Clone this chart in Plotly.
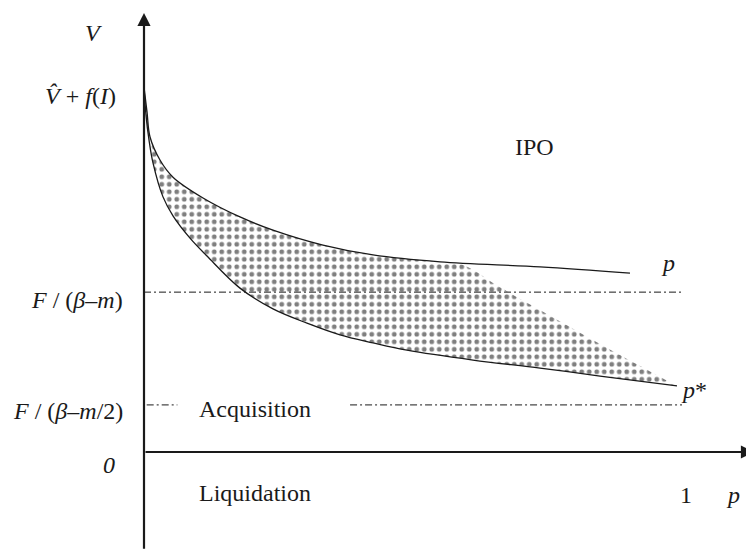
import plotly.graph_objects as go

# ---- data (schematic units: p on x, V on y; V_hat + f(I) = 1) ----
top_p = [0.0, 0.0056, 0.0112, 0.0297, 0.0539, 0.1097, 0.1784, 0.2398, 0.3327, 0.4257, 0.5502, 0.7361, 0.9033]
top_v = [1.0, 0.932, 0.863, 0.800, 0.753, 0.696, 0.644, 0.608, 0.567, 0.540, 0.521, 0.507, 0.490]

low_p = [0.0, 0.0037, 0.0093, 0.0167, 0.0353, 0.0539, 0.0855, 0.1171, 0.1784, 0.2398, 0.3030,
         0.3643, 0.4257, 0.4888, 0.6115, 0.7361, 0.8476, 0.9907]
low_v = [1.0, 0.923, 0.855, 0.792, 0.699, 0.647, 0.586, 0.537, 0.449, 0.392, 0.353,
         0.321, 0.299, 0.279, 0.252, 0.230, 0.208, 0.181]

# upper edge of the shaded region after it leaves the p curve
edge_p = [0.5874, 0.6152, 0.6487, 0.7361, 0.8476, 0.9907]
edge_v = [0.515, 0.496, 0.463, 0.389, 0.296, 0.181]

level_high = 0.438   # F / (beta - m)
level_low = 0.129    # F / (beta - m/2)
p_one = 1.0

y_tick_labels = ["<i>V̂</i> + <i>f</i>(<i>I</i>)", "<i>F</i> / (<i>β</i>–<i>m</i>)",
                 "<i>F</i> / (<i>β</i>–<i>m</i>/2)", "<i>0</i>"]
y_tick_vals = [1.0, level_high, level_low, 0.0]

# ---- figure ----
INK = "#1a1a1a"
FONT = "Liberation Serif, Times New Roman, serif"
fig = go.Figure()

# shaded region
n_top = top_p.index(0.5502) + 1
fill_x = top_p[:n_top] + edge_p + low_p[::-1]
fill_y = top_v[:n_top] + edge_v + low_v[::-1]
fig.add_trace(go.Scatter(
    x=fill_x, y=fill_y, mode="lines", fill="toself", fillcolor="white",
    line=dict(width=0, shape="spline", smoothing=1.0),
    fillpattern=dict(shape=".", size=7.5, solidity=0.32, fgcolor="#000000", bgcolor="white"),
    hoverinfo="skip", showlegend=False))

# dash-dot reference levels
dash = "7px,3px,2px,3px"
fig.add_trace(go.Scatter(x=[0.0, 1.002], y=[level_high, level_high], mode="lines",
                         line=dict(color=INK, width=1, dash=dash), showlegend=False))
fig.add_trace(go.Scatter(x=[0.005, 0.062], y=[level_low, level_low], mode="lines",
                         line=dict(color=INK, width=1, dash=dash), showlegend=False))
fig.add_trace(go.Scatter(x=[0.383, 1.0], y=[level_low, level_low], mode="lines",
                         line=dict(color=INK, width=1, dash=dash), showlegend=False))

# curves
fig.add_trace(go.Scatter(x=top_p, y=top_v, mode="lines",
                         line=dict(color=INK, width=1.3, shape="spline", smoothing=1.0),
                         showlegend=False))
fig.add_trace(go.Scatter(x=low_p, y=low_v, mode="lines",
                         line=dict(color=INK, width=1.3, shape="spline", smoothing=1.0),
                         showlegend=False))

# axes with arrows
x_end, y_end, y_bottom = 1.134, 1.203, -0.269
fig.add_annotation(x=x_end, y=0, ax=0, ay=0, xref="x", yref="y", axref="x", ayref="y",
                   showarrow=True, arrowhead=2, arrowsize=1.2, arrowwidth=2.2, arrowcolor=INK, text="")
fig.add_annotation(x=0, y=y_end, ax=0, ay=y_bottom, xref="x", yref="y", axref="x", ayref="y",
                   showarrow=True, arrowhead=2, arrowsize=1.2, arrowwidth=2.2, arrowcolor=INK, text="")

def label(x, y, text, xanchor="center", size=24):
    fig.add_annotation(x=x, y=y, xref="x", yref="y", text=text, showarrow=False,
                       xanchor=xanchor, yanchor="middle",
                       font=dict(family=FONT, size=size, color=INK))

# y-axis labels
label(-0.0948, 1.148, "<i>V</i>")
label(-0.048, 0.975, y_tick_labels[0], xanchor="right")
label(-0.035, 0.416, y_tick_labels[1], xanchor="right")
label(-0.035, 0.113, y_tick_labels[2], xanchor="right")
label(-0.065, -0.036, y_tick_labels[3])

# region / curve labels
label(0.725, 0.836, "IPO")
label(0.974, 0.518, "<i>p</i>")
label(1.022, 0.170, "<i>p</i>*")
label(0.2064, 0.118, "Acquisition")
label(0.2064, -0.112, "Liquidation")
label(p_one + 0.0074, -0.118, "1")
label(1.0948, -0.118, "<i>p</i>")

# the page body has an 8px margin: size the figure so it still ends at the window edge
fig.update_layout(
    width=746, height=543, margin=dict(l=0, r=0, t=0, b=0),
    paper_bgcolor="white", plot_bgcolor="white", showlegend=False,
    xaxis=dict(visible=False, range=[-0.25279, 1.13383], fixedrange=True),
    yaxis=dict(visible=False, range=[-0.27123, 1.21644], fixedrange=True),
)
fig.write_html("out.html")
